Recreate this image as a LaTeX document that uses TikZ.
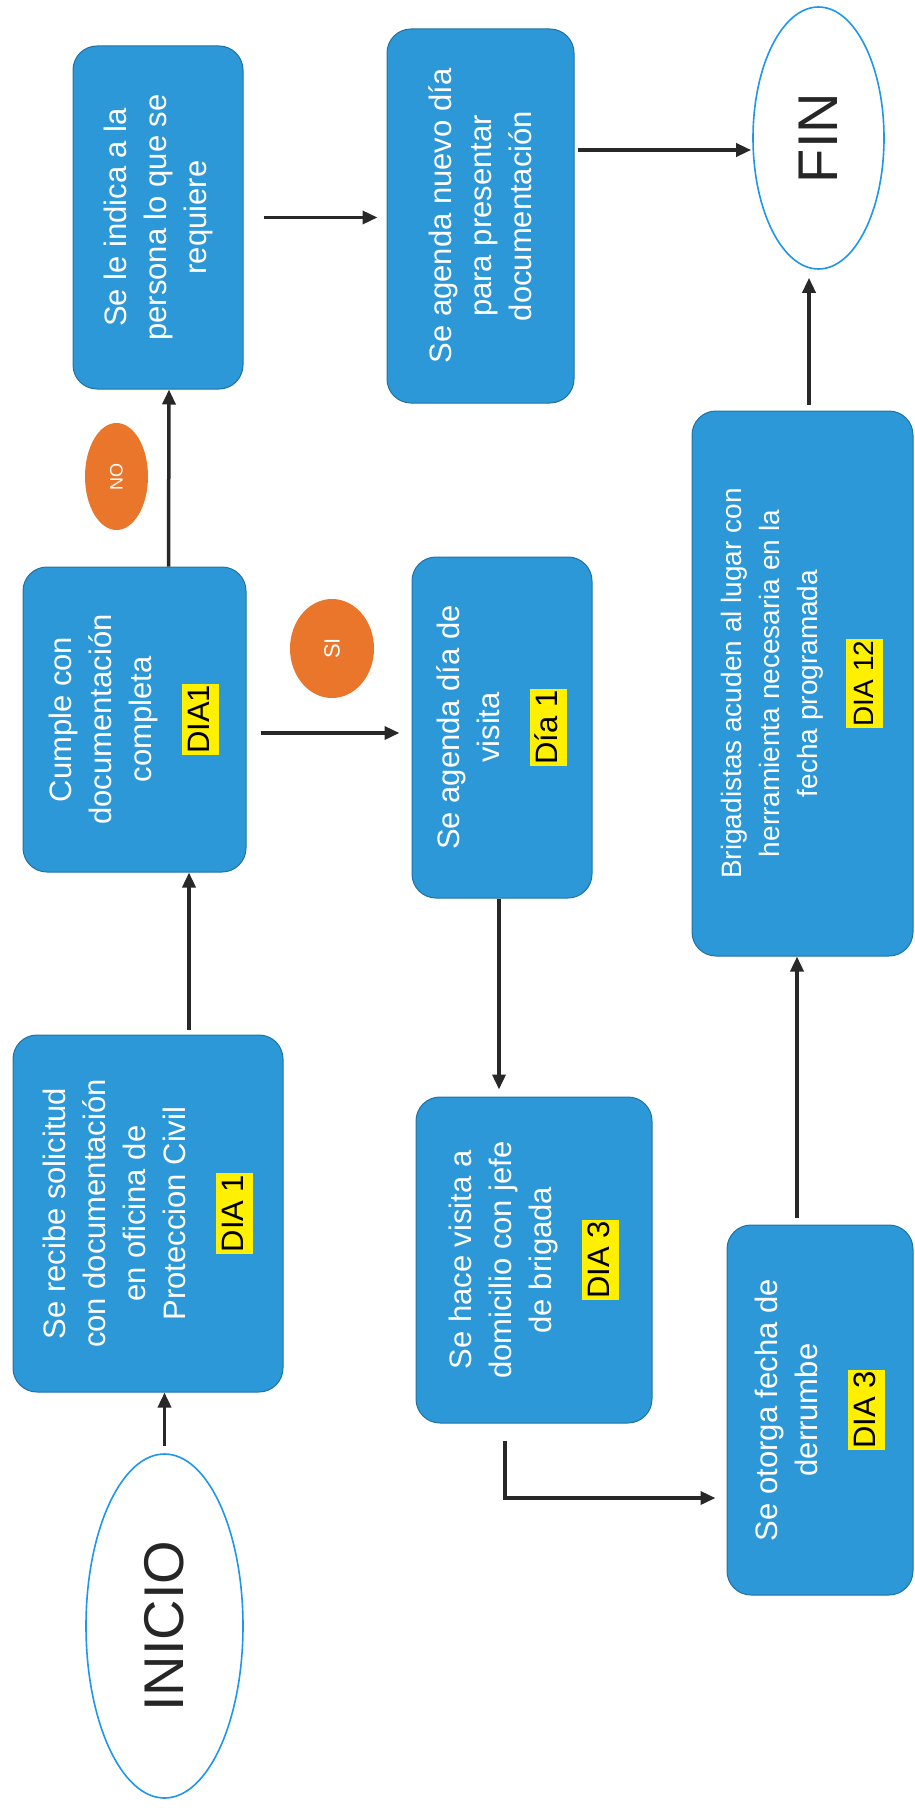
\documentclass[tikz,border=0pt]{standalone}
\usepackage{fontspec}
\setmainfont{Liberation Sans}
\usetikzlibrary{shapes.geometric, arrows.meta, calc}

\definecolor{cajaazul}{RGB}{44,152,216}
\definecolor{naranja}{RGB}{233,118,43}
\definecolor{bordeceleste}{RGB}{30,150,235}
\definecolor{diaamarillo}{RGB}{255,240,0}
\definecolor{flecha}{RGB}{40,40,40}

\newcommand{\dia}[1]{{\setlength{\fboxsep}{1.5pt}\colorbox{diaamarillo}{\rule[-8pt]{0pt}{34pt}\color{black}#1}}}

\begin{document}
\begin{tikzpicture}[x=1pt, y=-1pt,
  paso/.style={draw=cajaazul!75!black, line width=1pt, fill=cajaazul,
    rounded corners=24pt, rotate=90, align=center, text=white,
    font=\fontsize{31}{40}\selectfont, inner sep=4pt},
  term/.style={ellipse, draw=bordeceleste, line width=1.6pt, fill=white,
    rotate=90, inner sep=0pt, text=black!85,
    font=\fontsize{56}{60}\selectfont},
  resp/.style={ellipse, fill=naranja, rotate=90, inner sep=0pt, text=white},
  arr/.style={-{Triangle[length=15pt,width=13pt]}, line width=3.5pt, draw=flecha},
]
\useasboundingbox (0,0) rectangle (914,1811);

% ── Column 1: start, request, check ──
\node[term, minimum width=344pt, minimum height=157pt] (inicio) at (164.5,1626) {INICIO};
\node[paso, minimum width=357pt, minimum height=270pt] (recibe) at (148,1213.5)
  {Se recibe solicitud\\con documentación\\en oficina de\\Proteccion Civil\\[18pt]\dia{DIA 1}};
\node[paso, minimum width=305pt, minimum height=223pt] (cumple) at (134.5,719.5)
  {Cumple con\\documentación\\completa\\[18pt]\dia{DIA1}};
\node[paso, minimum width=343pt, minimum height=170pt] (indica) at (158,217.5)
  {Se le indica a la\\persona lo que se\\requiere};

% ── Column 2: scheduling and visit ──
\node[paso, minimum width=374pt, minimum height=187pt] (nuevo) at (480.5,216)
  {Se agenda nuevo día\\para presentar\\documentación};
\node[paso, minimum width=341pt, minimum height=180pt] (agenda) at (502,727.5)
  {Se agenda día de\\visita\\[18pt]\dia{Día 1}};
\node[paso, minimum width=326pt, minimum height=236pt] (visita) at (534,1260)
  {Se hace visita a\\domicilio con jefe\\de brigada\\[18pt]\dia{DIA 3}};

% ── Column 3: demolition and end ──
\node[paso, minimum width=370pt, minimum height=186pt] (otorga) at (820,1410)
  {Se otorga fecha de\\derrumbe\\[18pt]\dia{DIA 3}};
\node[paso, minimum width=545pt, minimum height=221pt,
  font=\fontsize{28}{38}\selectfont] (brigada) at (802.5,683.5)
  {Brigadistas acuden al lugar con\\herramienta necesaria en la\\fecha programada\\[18pt]\dia{DIA 12}};
\node[term, minimum width=262pt, minimum height=131pt] (fin) at (818.5,138) {FIN};

% answer tags
\node[resp, minimum width=107pt, minimum height=63pt, font=\fontsize{18}{20}\selectfont] (lno) at (116.5,476.5) {NO};
\node[resp, minimum width=99pt, minimum height=84pt, font=\fontsize{22}{24}\selectfont] (lsi) at (332,648.5) {SI};

% ── Connectors ──
\draw[arr, shorten <=7pt] (inicio.east) -- (inicio.east |- recibe.west);
\draw[arr] ($(recibe.east)+(41,-5)$) -- ($(cumple.west)+(54.5,0)$);
\draw[arr] ($(cumple.east)+(34,0)$) -- ($(indica.west)+(11,0)$);
\draw[arr, shorten <=20pt, shorten >=9pt] (indica.south) -- (indica.south -| nuevo.north);
\draw[arr] ($(nuevo.south)+(3,-66)$) -- ($(fin.north)+(-1,12)$);
\draw[arr] ($(cumple.south)+(14,13.5)$) -- ($(agenda.north)+(-12,5.5)$);
\draw[arr] ($(agenda.west)+(-3,0)$) -- ($(visita.east)+(-35,-7)$);
\draw[arr] ($(visita.west)+(-29,17)$) |- ($(otorga.north)+(-11,88)$);
\draw[arr] ($(otorga.east)+(-23,-7)$) -- ($(brigada.west)+(-5.5,0)$);
\draw[arr] ($(brigada.east)+(6.5,-6)$) -- ($(fin.west)+(-9.5,8)$);
\end{tikzpicture}
\end{document}
